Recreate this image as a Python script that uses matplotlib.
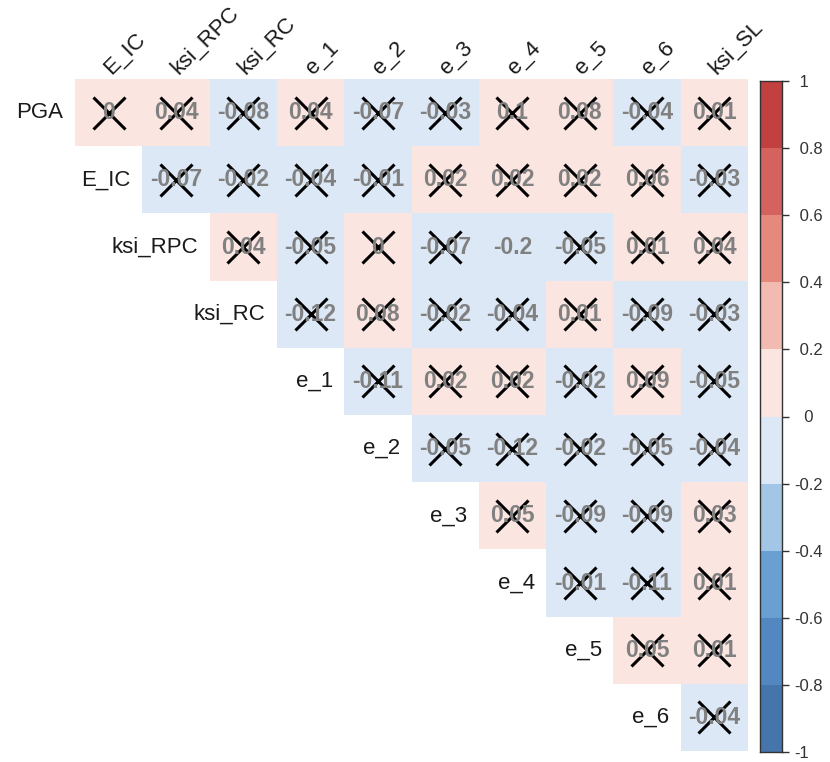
"""Upper-triangle correlation plot (corrplot style) with insignificant cells crossed out."""

import matplotlib.pyplot as plt
import numpy as np
from matplotlib.colors import BoundaryNorm, ListedColormap

plt.rcParams["font.family"] = ["Liberation Sans", "DejaVu Sans"]

# Data
row_names = ["PGA", "E_IC", "ksi_RPC", "ksi_RC", "e_1", "e_2", "e_3", "e_4", "e_5", "e_6"]
col_names = ["E_IC", "ksi_RPC", "ksi_RC", "e_1", "e_2", "e_3", "e_4", "e_5", "e_6", "ksi_SL"]

# row i holds the correlations from column i onwards
corr_pga = [0.0, 0.04, -0.08, 0.04, -0.07, -0.03, 0.1, 0.08, -0.04, 0.01]
corr_e_ic = [-0.07, -0.02, -0.04, -0.01, 0.02, 0.02, 0.02, 0.06, -0.03]
corr_ksi_rpc = [0.04, -0.05, 0.0, -0.07, -0.198, -0.05, 0.01, 0.04]
corr_ksi_rc = [-0.12, 0.08, -0.02, -0.04, 0.01, -0.09, -0.03]
corr_e_1 = [-0.11, 0.02, 0.02, -0.02, 0.09, -0.05]
corr_e_2 = [-0.05, -0.12, -0.02, -0.05, -0.04]
corr_e_3 = [0.05, -0.09, -0.09, 0.03]
corr_e_4 = [-0.01, -0.11, 0.01]
corr_e_5 = [0.05, 0.01]
corr_e_6 = [-0.04]

# only significant pair (not crossed out)
significant = [("ksi_RPC", "e_4")]

bar_ticks = [1, 0.8, 0.6, 0.4, 0.2, 0, -0.2, -0.4, -0.6, -0.8, -1]
bar_labels = [" 1", " 0.8", " 0.6", " 0.4", " 0.2", "  0", "-0.2", "-0.4", "-0.6", "-0.8", "-1"]

rows = [corr_pga, corr_e_ic, corr_ksi_rpc, corr_ksi_rc, corr_e_1,
        corr_e_2, corr_e_3, corr_e_4, corr_e_5, corr_e_6]

n = len(row_names)
mat = np.full((n, n), np.nan)
for i, vals in enumerate(rows):
    mat[i, i:] = vals

colors = ["#4575AB", "#5287C2", "#6A9FD2", "#A3C6E6", "#DCE8F5",
          "#FBE5E1", "#F2BBB1", "#E5897D", "#D4625E", "#C2403F"]
cmap = ListedColormap(colors)
edges = np.round(np.linspace(-1, 1, 11), 10)
norm = BoundaryNorm(edges, cmap.N)

W, H = 830, 762
fig = plt.figure(figsize=(W / 100, H / 100), dpi=100)
ax = fig.add_axes([75 / W, 1 - 751 / H, 673 / W, 672 / H])

ax.pcolormesh(np.arange(n + 1), np.arange(n + 1), np.ma.masked_invalid(mat),
              cmap=cmap, norm=norm, edgecolors="none")
ax.set_xlim(0, n)
ax.set_ylim(n, 0)
ax.axis("off")

for i in range(n):
    for j in range(i, n):
        v = mat[i, j]
        txt = ("%.2f" % v).rstrip("0").rstrip(".")
        if txt == "-0":
            txt = "0"
        ax.text(j + 0.5, i + 0.5, txt, ha="center", va="center", fontsize=16.5,
                fontweight="bold", color="#808080")
        if (row_names[i], col_names[j]) not in significant:
            ax.plot(j + 0.5, i + 0.5, marker="x", markersize=23, mew=2.2,
                    color="black", linestyle="none")
    # row label left of the first cell
    ax.text(i - 0.17, i + 0.5, row_names[i], ha="right", va="center",
            fontsize=16, color="#1a1a1a")

for j, name in enumerate(col_names):
    ax.text(j + 0.53, -0.06, name, ha="left", va="baseline", rotation=45,
            rotation_mode="anchor", fontsize=16, color="#1a1a1a")

# Colour legend
cax = fig.add_axes([760 / W, 1 - 752 / H, 22 / W, 671 / H])
cax.pcolormesh([0, 1], edges, ((edges[:-1] + edges[1:]) / 2)[:, None],
               cmap=cmap, norm=norm)
cax.set_xlim(0, 1)
cax.set_ylim(-1, 1)
cax.set_xticks([])
cax.yaxis.tick_right()
cax.set_yticks(bar_ticks)
cax.set_yticklabels(bar_labels)
cax.tick_params(axis="y", length=5, width=1, pad=4, labelsize=12, colors="#333333")
for sp in cax.spines.values():
    sp.set_color("#333333")
    sp.set_linewidth(1)

fig.savefig("out.png", dpi=100)
